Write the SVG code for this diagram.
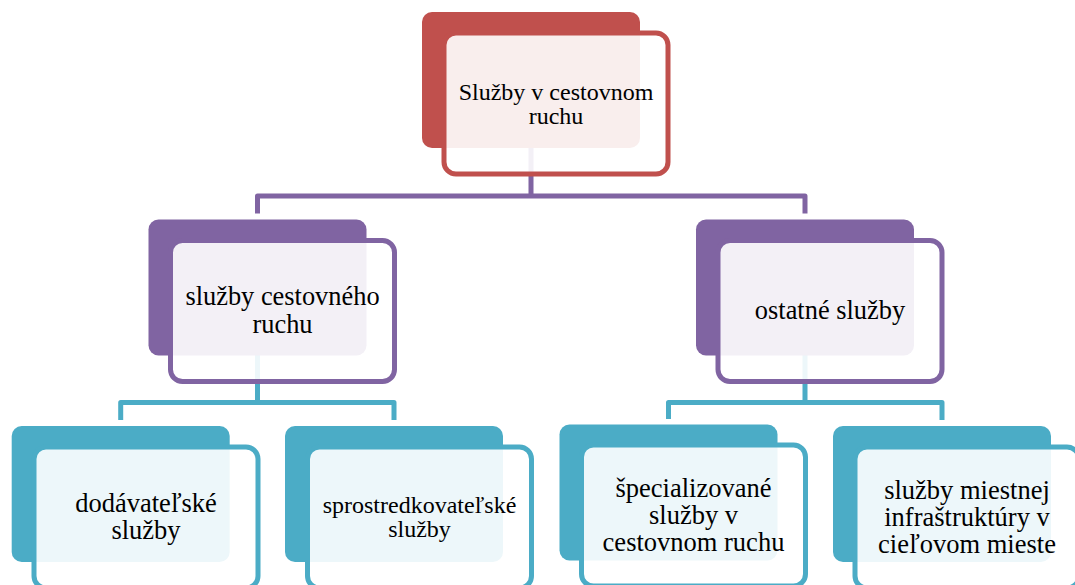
<svg xmlns="http://www.w3.org/2000/svg" width="1075" height="585" viewBox="0 0 1075 585">
<style>
.back{stroke:none}
.front{fill:#fff;fill-opacity:0.9;stroke-width:5}
.red .back{fill:#C0504D}.red .front{stroke:#C0504D}
.pur .back{fill:#8064A2}.pur .front{stroke:#8064A2}
.teal .back{fill:#4BACC6}.teal .front{stroke:#4BACC6}
.con{fill:none;stroke-width:5;stroke-linejoin:round}
.cp{stroke:#8064A2}.ct{stroke:#4BACC6}
text{font-family:"Liberation Serif","Times New Roman",serif;fill:#000;text-anchor:middle}
.t1{font-size:24px}.t2{font-size:26.4px}.t3{font-size:26.5px}.t3s{font-size:24px}
</style>
<rect width="1075" height="585" fill="#fff"/>
<g id="connectors">
<path class="con cp" d="M531 148V196M257.5 213.5V196H805V213.5"/>
<path class="con ct" d="M257.5 355V402.5M120.7 420V402.5H394V420"/>
<path class="con ct" d="M805 355V402.5M668.5 419V402.5H942V420"/>
</g>
<g id="node-root" class="red">
<rect class="back" x="422" y="12" width="218" height="136" rx="10"/>
<rect class="front" x="444" y="33" width="224" height="141" rx="12"/>
<text class="t1" x="556" y="99.5">Služby v cestovnom</text>
<text class="t1" x="556" y="124">ruchu</text>
</g>
<g id="node-sluzby-cr" class="pur">
<rect class="back" x="148.5" y="219.5" width="218" height="136" rx="10"/>
<rect class="front" x="170.5" y="240.5" width="224" height="141" rx="12"/>
<text class="t2" x="282.5" y="305">služby cestovného</text>
<text class="t2" x="282.5" y="332.5">ruchu</text>
</g>
<g id="node-ostatne" class="pur">
<rect class="back" x="696" y="219.5" width="218" height="136" rx="10"/>
<rect class="front" x="718" y="240.5" width="224" height="141" rx="12"/>
<text class="t2" x="830" y="318.5">ostatné služby</text>
</g>
<g id="node-dodavatelske" class="teal">
<rect class="back" x="11.7" y="426" width="218" height="136" rx="10"/>
<rect class="front" x="34" y="447" width="224" height="141" rx="12"/>
<text class="t3" x="146" y="511.5">dodávateľské</text>
<text class="t3" x="146" y="538.5">služby</text>
</g>
<g id="node-sprostredkovatelske" class="teal">
<rect class="back" x="285" y="426" width="218" height="136" rx="10"/>
<rect class="front" x="307.5" y="447" width="224" height="141" rx="12"/>
<text class="t3s" x="419.5" y="512.5">sprostredkovateľské</text>
<text class="t3s" x="419.5" y="537">služby</text>
</g>
<g id="node-specializovane" class="teal">
<rect class="back" x="559.5" y="424.5" width="218" height="136" rx="10"/>
<rect class="front" x="581.5" y="445" width="224" height="141" rx="12"/>
<text class="t3" x="693.5" y="496.5">špecializované</text>
<text class="t3" x="693.5" y="523.5">služby v</text>
<text class="t3" x="693.5" y="551">cestovnom ruchu</text>
</g>
<g id="node-infrastruktura" class="teal">
<rect class="back" x="833" y="426" width="218" height="136" rx="10"/>
<rect class="front" x="855" y="447" width="224" height="141" rx="12"/>
<text class="t3" x="967" y="498.5">služby miestnej</text>
<text class="t3" x="967" y="525.5">infraštruktúry v</text>
<text class="t3" x="967" y="553">cieľovom mieste</text>
</g>
</svg>
